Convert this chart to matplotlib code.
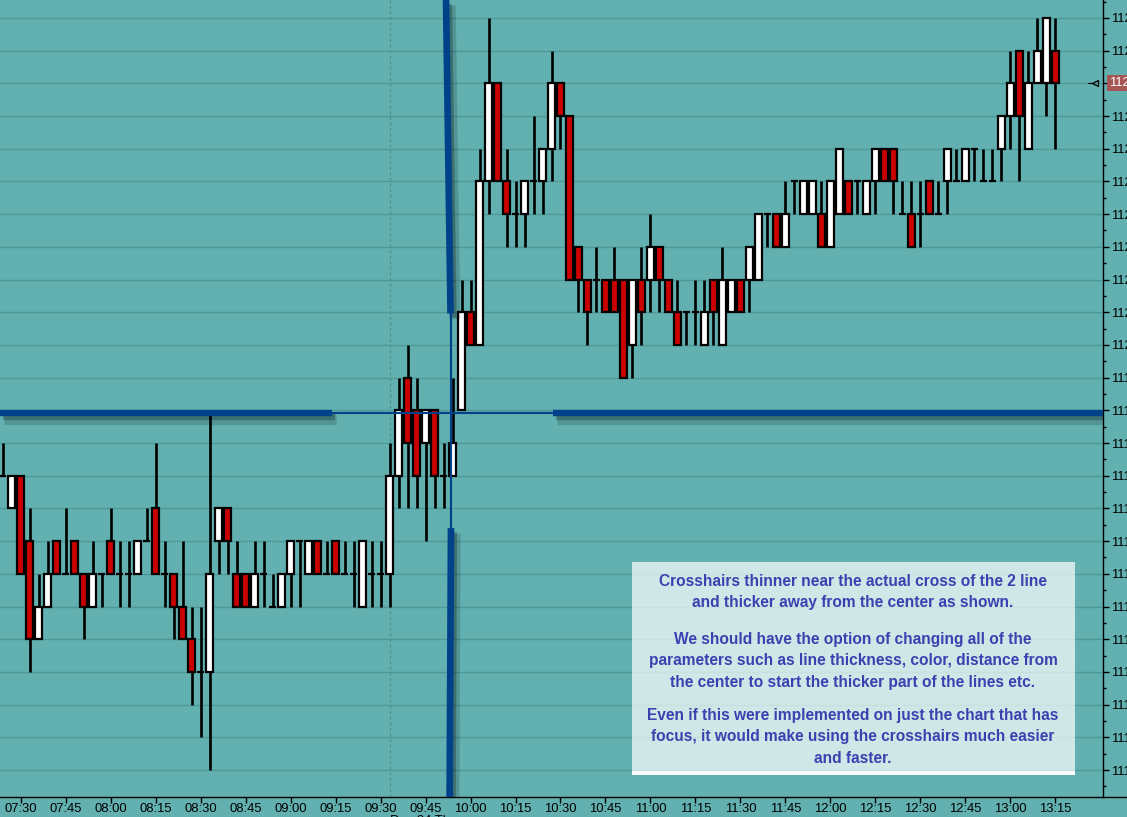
import numpy as np
import matplotlib.pyplot as plt
import matplotlib.patheffects as pe
from matplotlib.patches import Rectangle
from matplotlib.lines import Line2D
from matplotlib.ticker import MultipleLocator

plt.rcParams['font.family'] = ['Liberation Sans', 'DejaVu Sans']

# 3 minute bars, Dec 24
opens = [1119.00, 1118.75, 1119.00, 1118.50, 1117.75, 1118.00, 1118.50, 1118.25, 1118.50, 1118.25,
         1118.00, 1118.25, 1118.50, 1118.25, 1118.25, 1118.25, 1118.50, 1118.75, 1118.25, 1118.25,
         1118.00, 1117.75, 1117.50, 1117.50, 1118.50, 1118.75, 1118.25, 1118.25, 1118.00, 1118.25,
         1118.00, 1118.00, 1118.25, 1118.50, 1118.25, 1118.50, 1118.25, 1118.50, 1118.25, 1118.25,
         1118.00, 1118.25, 1118.25, 1118.25, 1119.00, 1119.75, 1119.50, 1119.25, 1119.50, 1119.00,
         1119.00, 1119.50, 1120.25, 1120.00, 1121.25, 1122.00, 1121.25, 1121.00, 1121.00, 1121.25,
         1121.25, 1121.50, 1122.00, 1121.75, 1120.75, 1120.50, 1120.50, 1120.50, 1120.50, 1120.50,
         1120.00, 1120.50, 1120.50, 1120.75, 1120.50, 1120.25, 1120.25, 1120.25, 1120.00, 1120.50,
         1120.00, 1120.25, 1120.50, 1120.50, 1120.50, 1121.00, 1121.00, 1120.75, 1121.25, 1121.00,
         1121.00, 1121.00, 1120.75, 1121.00, 1121.25, 1121.25, 1121.00, 1121.25, 1121.50, 1121.50,
         1121.00, 1121.00, 1121.00, 1121.25, 1121.00, 1121.25, 1121.25, 1121.25, 1121.50, 1121.25,
         1121.25, 1121.50, 1121.75, 1122.25, 1121.50, 1122.00, 1122.00, 1122.25]
highs = [1119.25, 1119.00, 1119.00, 1118.75, 1118.25, 1118.50, 1118.50, 1118.75, 1118.50, 1118.25,
         1118.50, 1118.25, 1118.75, 1118.50, 1118.50, 1118.50, 1118.75, 1119.25, 1118.50, 1118.25,
         1118.50, 1118.00, 1118.00, 1119.50, 1118.75, 1118.75, 1118.50, 1118.25, 1118.50, 1118.50,
         1118.25, 1118.25, 1118.50, 1118.50, 1118.50, 1118.50, 1118.50, 1118.50, 1118.50, 1118.50,
         1118.50, 1118.50, 1118.50, 1119.25, 1119.75, 1120.00, 1119.75, 1119.50, 1119.50, 1119.25,
         1119.75, 1120.50, 1120.50, 1121.50, 1122.50, 1122.00, 1121.50, 1121.25, 1121.25, 1121.75,
         1121.50, 1122.25, 1122.00, 1121.75, 1120.75, 1120.50, 1120.75, 1120.50, 1120.75, 1120.50,
         1120.50, 1120.75, 1121.00, 1120.75, 1120.50, 1120.50, 1120.25, 1120.50, 1120.50, 1120.50,
         1120.75, 1120.50, 1120.50, 1120.75, 1121.00, 1121.00, 1121.00, 1121.25, 1121.25, 1121.25,
         1121.25, 1121.25, 1121.25, 1121.50, 1121.25, 1121.25, 1121.25, 1121.50, 1121.50, 1121.50,
         1121.25, 1121.25, 1121.25, 1121.25, 1121.25, 1121.50, 1121.50, 1121.50, 1121.50, 1121.50,
         1121.50, 1121.75, 1122.25, 1122.25, 1122.25, 1122.50, 1122.50, 1122.50]
lows = [1119.00, 1118.75, 1118.25, 1117.50, 1117.75, 1118.00, 1118.25, 1118.25, 1118.25, 1117.75,
        1118.00, 1118.00, 1118.25, 1118.00, 1118.00, 1118.25, 1118.50, 1118.25, 1118.00, 1117.75,
        1117.75, 1117.25, 1117.00, 1116.75, 1118.25, 1118.25, 1118.00, 1118.00, 1118.00, 1118.00,
        1118.00, 1118.00, 1118.00, 1118.00, 1118.25, 1118.25, 1118.25, 1118.25, 1118.25, 1118.00,
        1118.00, 1118.00, 1118.00, 1118.00, 1118.75, 1118.75, 1118.75, 1118.50, 1118.75, 1118.75,
        1119.00, 1119.50, 1120.00, 1120.00, 1121.00, 1121.25, 1120.75, 1120.75, 1120.75, 1121.00,
        1121.00, 1121.25, 1121.50, 1120.50, 1120.25, 1120.00, 1120.25, 1120.25, 1120.25, 1119.75,
        1119.75, 1120.00, 1120.25, 1120.25, 1120.25, 1120.00, 1120.00, 1120.00, 1120.00, 1120.00,
        1120.00, 1120.25, 1120.25, 1120.25, 1120.50, 1120.75, 1120.75, 1120.75, 1121.00, 1121.00,
        1121.00, 1120.75, 1120.75, 1121.00, 1121.00, 1121.00, 1121.00, 1121.00, 1121.25, 1121.00,
        1121.00, 1120.75, 1120.75, 1121.00, 1121.00, 1121.00, 1121.25, 1121.25, 1121.25, 1121.25,
        1121.25, 1121.25, 1121.50, 1121.25, 1121.50, 1122.00, 1121.75, 1121.50]
closes = [1119.00, 1119.00, 1118.25, 1117.75, 1118.00, 1118.25, 1118.25, 1118.25, 1118.25, 1118.00,
          1118.25, 1118.25, 1118.25, 1118.25, 1118.25, 1118.50, 1118.50, 1118.25, 1118.25, 1118.00,
          1117.75, 1117.50, 1117.50, 1118.25, 1118.75, 1118.50, 1118.00, 1118.00, 1118.25, 1118.25,
          1118.00, 1118.25, 1118.50, 1118.50, 1118.50, 1118.25, 1118.25, 1118.25, 1118.25, 1118.25,
          1118.50, 1118.25, 1118.25, 1119.00, 1119.50, 1119.25, 1119.00, 1119.50, 1119.00, 1119.00,
          1119.25, 1120.25, 1120.00, 1121.25, 1122.00, 1121.25, 1121.00, 1121.00, 1121.25, 1121.25,
          1121.50, 1122.00, 1121.75, 1120.50, 1120.50, 1120.25, 1120.50, 1120.25, 1120.25, 1119.75,
          1120.50, 1120.25, 1120.75, 1120.50, 1120.25, 1120.00, 1120.25, 1120.25, 1120.25, 1120.25,
          1120.50, 1120.50, 1120.25, 1120.75, 1121.00, 1121.00, 1120.75, 1121.00, 1121.25, 1121.25,
          1121.25, 1120.75, 1121.25, 1121.50, 1121.00, 1121.25, 1121.25, 1121.50, 1121.25, 1121.25,
          1121.00, 1120.75, 1121.00, 1121.00, 1121.00, 1121.50, 1121.25, 1121.50, 1121.50, 1121.25,
          1121.25, 1121.75, 1122.00, 1121.75, 1122.00, 1122.25, 1122.50, 1122.00]

time_labels = ['07:30', '07:45', '08:00', '08:15', '08:30', '08:45', '09:00', '09:15',
               '09:30', '09:45', '10:00', '10:15', '10:30', '10:45', '11:00', '11:15',
               '11:30', '11:45', '12:00', '12:15', '12:30', '12:45', '13:00', '13:15']
first_bar_time = 7 * 60 + 24   # minutes, bar 0
bar_minutes = 3
last_price = 1122.00

# crosshair
cross_price = 1119.48
cross_bar = 49.78
h_gap = (36.6, 61.2)          # thin part of the horizontal line (bar index)
v_gap = (1118.60, 1120.24)    # thin part of the vertical line (price)

note = ["Crosshairs thinner near the actual cross of the 2 line\nand thicker away from the center as shown.",
        "We should have the option of changing all of the\nparameters such as line thickness, color, distance from\nthe center to start the thicker part of the lines etc.",
        "Even if this were implemented on just the chart that has\nfocus, it would make using the crosshairs much easier\nand faster."]

bg = '#62b0b0'
gridc = '#4f9898'
red = '#cc0000'
blue = '#00428a'

W, H = 1127, 817
fig = plt.figure(figsize=(W / 100, H / 100), dpi=100, facecolor=bg)
ax = fig.add_axes([0, 20 / H, 1103 / W, 797 / H])
ax.set_facecolor(bg)
ax.set_xlim(-0.28, 122.28)
ax.set_ylim(1116.544, 1122.637)

o = np.array(opens)
h = np.array(highs)
l = np.array(lows)
c = np.array(closes)
x = np.arange(len(o))

# wicks
ax.vlines(x, l, h, color='black', lw=1.9, zorder=3)
# bodies
for xi, oi, ci in zip(x, o, c):
    if ci == oi:
        ax.hlines(oi, xi - 0.42, xi + 0.42, color='black', lw=1.6, zorder=4)
    else:
        fc = 'white' if ci > oi else red
        ax.add_patch(Rectangle((xi - 0.38, min(oi, ci)), 0.76, abs(ci - oi),
                               facecolor=fc, edgecolor='black', lw=1.6, zorder=4))

# session line
ax.axvline(43, color='#4a9292', lw=1, ls=(0, (2, 2)), zorder=1)

# axes cosmetics
ax.set_yticks(np.arange(1116.75, 1122.51, 0.25))
ax.yaxis.set_minor_locator(MultipleLocator(0.125))
ax.yaxis.set_major_formatter('{x:.2f}')
ax.yaxis.tick_right()
ax.grid(axis='y', color=gridc, lw=1, zorder=0)
ax.tick_params(axis='y', which='major', direction='out', length=4, width=1, pad=1.5, labelsize=9.4)
ax.tick_params(axis='y', which='minor', direction='out', length=2.5, width=1)
tick_pos = [(int(t[:2]) * 60 + int(t[3:]) - first_bar_time) / bar_minutes for t in time_labels]
ax.set_xticks(tick_pos)
ax.set_xticklabels(time_labels)
ax.tick_params(axis='x', direction='out', length=4, width=1, pad=0.5, labelsize=9.4)
for s in ['top', 'left']:
    ax.spines[s].set_visible(False)
for s in ['right', 'bottom']:
    ax.spines[s].set_color('black')
    ax.spines[s].set_linewidth(1)
fig.add_artist(Line2D([1103 / W, 1], [20 / H, 20 / H], color='black', lw=1))
fig.text(390 / W, 1 - 815 / H, 'Dec 24 Thu', va='top', ha='left', fontsize=9.4)

# last price marker
ax.plot([120.6, 121.1], [last_price, last_price], color='black', lw=0.8, zorder=5)
ax.plot([121.35], [last_price], marker='<', ms=4.5, mfc='none', mec='black', mew=0.9, zorder=5)
ax.text(1.0055, last_price, f'{last_price:.2f}', transform=ax.get_yaxis_transform(),
        ha='left', va='center', color='white', fontsize=9.4, clip_on=False, zorder=10,
        bbox=dict(boxstyle='square,pad=0.15', fc='#a65555', ec='none'))

# crosshair: thick away from the center, thin near it
shadow = [pe.SimpleLineShadow(offset=(3, -4), shadow_color='black', alpha=0.15, linewidth=8),
          pe.SimpleLineShadow(offset=(2, -3), shadow_color='black', alpha=0.25), pe.Normal()]
x0, x1 = ax.get_xlim()
y0, y1 = ax.get_ylim()
ax.plot([x0, h_gap[0]], [cross_price, cross_price], color=blue, lw=4.6, solid_capstyle='butt',
        path_effects=shadow, zorder=7)
ax.plot([h_gap[1], x1], [cross_price, cross_price], color=blue, lw=4.6, solid_capstyle='butt',
        path_effects=shadow, zorder=7)
ax.plot([h_gap[0], h_gap[1]], [cross_price, cross_price], color=blue, lw=1.5, zorder=7)
ax.plot([cross_bar - 0.5, cross_bar], [y1, v_gap[1]], color=blue, lw=4.8, solid_capstyle='butt',
        path_effects=shadow, zorder=7)
ax.plot([cross_bar, cross_bar], [v_gap[1], v_gap[0]], color=blue, lw=1.5, zorder=7)
ax.plot([cross_bar + 0.05, cross_bar - 0.1], [v_gap[0], y0], color=blue, lw=4.8, solid_capstyle='butt',
        path_effects=shadow, zorder=7)

# note box
fig.add_artist(Rectangle((632 / W, 1 - 775 / H), 443 / W, 213 / H, transform=fig.transFigure,
                         facecolor='white', alpha=0.7, edgecolor='none'))
fig.add_artist(Rectangle((632 / W, 1 - 775 / H), 443 / W, 4 / H, transform=fig.transFigure,
                         facecolor='white', alpha=0.9, edgecolor='none'))
for txt, yc in zip(note, [592, 661, 737]):
    fig.text(853 / W, 1 - yc / H, txt, ha='center', va='center', multialignment='center',
             color='#3c40b0', fontsize=11.2, fontweight='bold', linespacing=1.55)

fig.savefig('out.png', dpi=100, facecolor=bg)
